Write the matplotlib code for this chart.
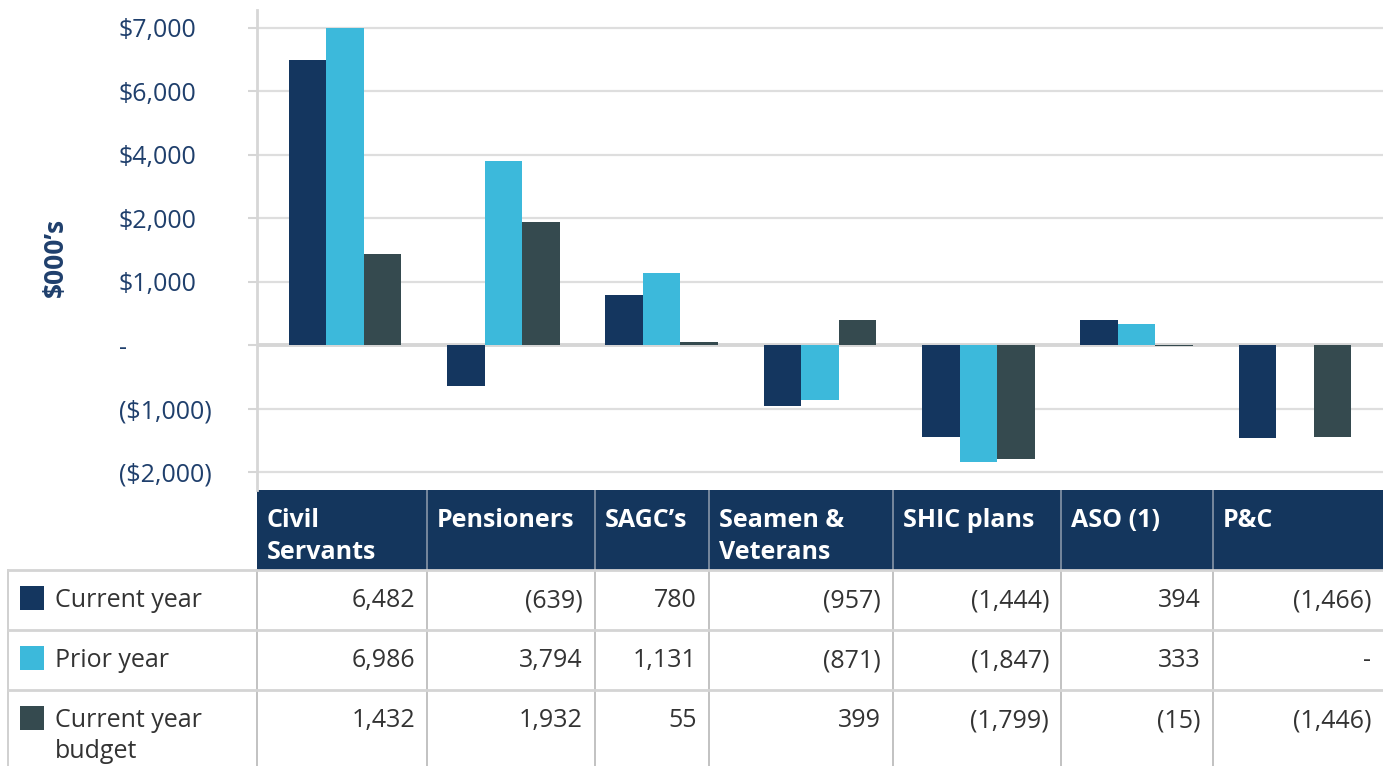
import numpy as np
import matplotlib
matplotlib.use("Agg")
import matplotlib.pyplot as plt
from matplotlib.patches import Rectangle

plt.rcParams['font.family'] = ['Open Sans', 'DejaVu Sans']

# data
categories = ["Civil\nServants", "Pensioners", "SAGC\u2019s", "Seamen &\nVeterans",
              "SHIC plans", "ASO (1)", "P&C"]
series_names = ["Current year", "Prior year", "Current year\nbudget"]
current_year = [6482, -639, 780, -957, -1444, 394, -1466]
prior_year = [6986, 3794, 1131, -871, -1847, 333, 0]
budget = [1432, 1932, 55, 399, -1799, -15, -1446]
tick_values = [-2000, -1000, 0, 1000, 2000, 4000, 6000, 7000]
tick_labels = ["($2,000)", "($1,000)", "-", "$1,000", "$2,000", "$4,000", "$6,000", "$7,000"]

colors = ["#14365f", "#3cb9db", "#354a4f"]
navy = "#14365d"
label_col = "#1f3f6c"
text_col = "#333333"

# axis with evenly spaced gridlines for the uneven tick values
knots = np.array([tick_values[0] - 1000] + tick_values + [tick_values[-1] + 1000], float)
idx = np.arange(len(knots), dtype=float)


def fwd(v):
    return np.interp(v, knots, idx)


def inv(p):
    return np.interp(p, idx, knots)


W, H = 1383, 766
fig = plt.figure(figsize=(W / 100, H / 100), dpi=100)

ax = fig.add_axes([257 / W, 1 - 490 / H, (W - 257) / W, 480 / H])
ax.set_yscale('function', functions=(fwd, inv))
ax.set_ylim(-2283, 7276)
ax.set_xlim(-0.556, len(categories) - 1 + 0.556)

x = np.arange(len(categories))
w = 0.237
for i, vals in enumerate([current_year, prior_year, budget]):
    ax.bar(x + (i - 1) * w, vals, width=w, color=colors[i], zorder=3)

ax.set_yticks(tick_values)
ax.set_yticklabels(tick_labels)
ax.yaxis.grid(True, color="#dedede", lw=1.6, zorder=0)
ax.axhline(0, color="#d6d6d6", lw=2.8, zorder=2)
ax.set_xticks([])
for s in ["top", "right", "bottom"]:
    ax.spines[s].set_visible(False)
ax.spines["left"].set_color("#d6d6d6")
ax.spines["left"].set_linewidth(2)
ax.tick_params(axis='y', length=6.5, width=1.5, color="#d6d6d6",
               labelsize=18, labelcolor=label_col, pad=93)
for t in ax.get_yticklabels():
    t.set_horizontalalignment('left')

fig.text(55 / W, 1 - 257 / H, "$000\u2019s", rotation=90, ha='center', va='center',
         fontsize=19, fontweight='bold', color=label_col)

# table drawn below the plot in pixel coordinates
tab = fig.add_axes([0, 0, 1, 1], zorder=-1)
tab.set_xlim(0, W)
tab.set_ylim(H, 0)
tab.axis('off')

col_edges = [257, 427, 595, 709, 893, 1061, 1213, 1383]
row_edges = [570, 630, 690, 770]

tab.add_patch(Rectangle((257, 490), W - 257, 80, color=navy, lw=0))
for cx in col_edges[1:-1]:
    tab.plot([cx, cx], [490, 570], color="#8796a8", lw=1.2)
    tab.plot([cx, cx], [570, H], color="#b8b8b8", lw=1.2)
tab.plot([8, 8], [570, H], color="#c8c8c8", lw=1.2)
tab.plot([257, 257], [570, H], color="#b8b8b8", lw=1.2)
for ry in row_edges[:-1]:
    tab.plot([8, W], [ry, ry], color="#d4d4d4", lw=2)

for j, name in enumerate(categories):
    for k, line in enumerate(name.split("\n")):
        tab.text(col_edges[j] + 10, 527 + 32 * k, line, color="white", fontsize=18,
                 fontweight='bold', ha='left', va='baseline')


def fmt(v):
    if v == 0:
        return "-"
    if v < 0:
        return "({:,})".format(-v)
    return "{:,}".format(v)


for r, vals in enumerate([current_year, prior_year, budget]):
    base = row_edges[r] + 37
    tab.add_patch(Rectangle((20, row_edges[r] + 16), 24, 24, color=colors[r], lw=0))
    for k, line in enumerate(series_names[r].split("\n")):
        tab.text(55, base + 31 * k, line, color=text_col, fontsize=18,
                 ha='left', va='baseline')
    for j, v in enumerate(vals):
        tab.text(col_edges[j + 1] - 12, base, fmt(v), color=text_col, fontsize=18,
                 ha='right', va='baseline')

fig.savefig("out.png", dpi=100)
